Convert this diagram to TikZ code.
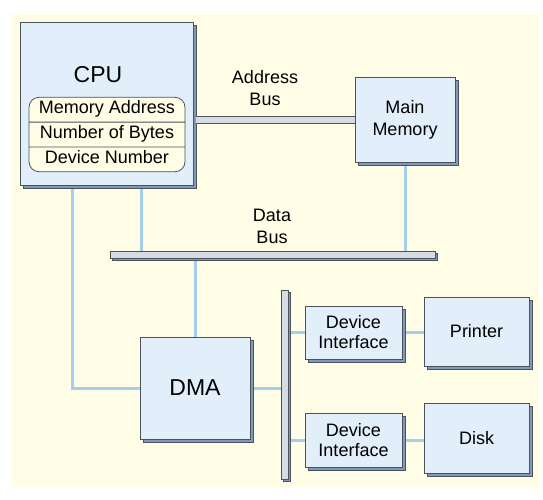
\documentclass[tikz,border=0pt]{standalone}
\usepackage{fontspec}
\setmainfont{Liberation Sans}
\usetikzlibrary{shadows,shapes.multipart,backgrounds}

\definecolor{cream}{HTML}{FFFDE6}
\definecolor{boxblue}{HTML}{E2EEFA}
\definecolor{boxedge}{HTML}{4A525C}
\definecolor{shadeblue}{HTML}{7F9AB8}
\definecolor{linkblue}{HTML}{A5CFEF}
\definecolor{busgrey}{HTML}{D5DCE4}

\begin{document}
\begin{tikzpicture}[x=1pt,y=-1pt,
    unit/.style={draw=boxedge,fill=boxblue,line width=0.8pt,align=center,
      inner sep=0pt,font=\labfont,
      drop shadow={shadow xshift=3pt,shadow yshift=-3pt,fill=shadeblue,
        draw=boxedge,line width=0.5pt,opacity=1}},
    iface/.style={unit,font=\ifacefont,minimum width=97pt},
    busbar/.style={draw=boxedge,fill=busgrey,line width=0.8pt,inner sep=0pt,
      drop shadow={shadow xshift=2pt,shadow yshift=-2pt,fill=shadeblue,
        draw=boxedge,line width=0.5pt,opacity=1}},
    abus/.style={draw=boxedge,line width=0.8pt,double=busgrey,double distance=6pt},
    link/.style={draw=linkblue,line width=3pt},
    regs/.style={rectangle split,rectangle split parts=3,draw=boxedge,
      fill=cream,rounded corners=10pt,line width=0.8pt,minimum width=156pt,
      inner ysep=2pt,font=\regfont},
    lab/.style={align=center,font=\labfont}]
  % Font sizes
  \newcommand{\labfont}{\fontsize{18}{22}\selectfont}
  \newcommand{\ifacefont}{\fontsize{18}{20}\selectfont}
  \newcommand{\bigfont}{\fontsize{23}{27}\selectfont}
  \newcommand{\regfont}{\fontsize{18}{20}\selectfont}
  \def\cpulink{34.5pt}      % Offset of the CPU links from cpu.south
  %
  \useasboundingbox (0,0) rectangle (543,499);
  %
  % CPU with its registers
  \node[unit,minimum width=173pt,minimum height=163pt] (cpu) at (106.5,103.5) {};
  \node[font=\bigfont] (cpulab) at (98,75) {CPU};
  \node[regs] (regs) at (107,134.5)
    {\strut Memory Address \nodepart{two}\strut Number of Bytes
     \nodepart{three}\strut Device Number};
  %
  % Other units
  \node[unit,minimum width=100pt,minimum height=85pt] (mem) at (405,119.5)
    {Main\\Memory};
  \node[unit,font=\bigfont,minimum width=110pt,minimum height=102pt] (dma)
    at (195,388) {DMA};
  \node[iface,minimum height=53pt] (di1) at (353.5,332.5) {Device\\Interface};
  \node[unit,minimum width=105pt,minimum height=69pt] (prn) at (476.5,331.5)
    {Printer};
  \node[iface,minimum height=54pt] (di2) at (353.5,440) {Device\\Interface};
  \node[unit,minimum width=105pt,minimum height=70pt] (disk) at (476.5,438)
    {Disk};
  %
  % Buses
  \node[busbar,minimum width=325pt,minimum height=7pt] (dbus) at (272.5,254.5) {};
  \node[busbar,minimum width=7pt,minimum height=189pt] (vbus) at (284.5,384.5) {};
  \draw[abus] ([xshift=3pt,yshift=-16.5pt]cpu.east) coordinate (abusL)
    -- (abusL -| mem.west);
  %
  % Labels
  \node[lab] (abuslab) at (265,88.5) {Address\\Bus};
  \node[lab] (dbuslab) at (272,226.5) {Data\\Bus};
  %
  % Background and links
  \begin{scope}[on background layer]
    \fill[cream] (12,14) rectangle (539,487);
    \draw[link] ([xshift=-\cpulink]cpu.south) |- (dma.west);
    \draw[link] ([xshift=\cpulink]cpu.south) coordinate (cpuR)
      -- (cpuR |- dbus.north);
    \draw[link] (mem.south) -- (mem.south |- dbus.north);
    \draw[link] (dma.north) -- (dma.north |- dbus.south);
    \draw[link] (dma.east) -- (dma.east -| vbus.west);
    \draw[link] (di1.west -| vbus.east) -- (di1.west);
    \draw[link] (di1.east) -- (di1.east -| prn.west);
    \draw[link] (di2.west -| vbus.east) -- (di2.west);
    \draw[link] (di2.east) -- (di2.east -| disk.west);
  \end{scope}
  %
\end{tikzpicture}
\end{document}
